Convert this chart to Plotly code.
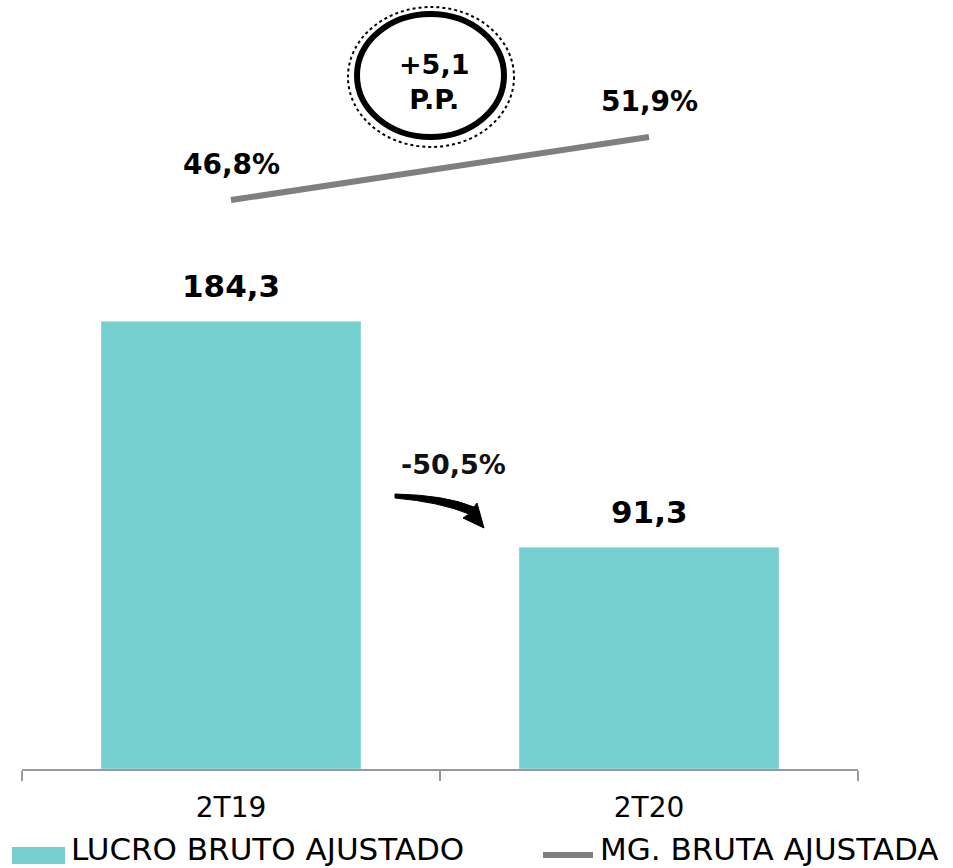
import plotly.graph_objects as go

categories = ["2T19", "2T20"]
lucro_bruto = [184.3, 91.3]
margem_bruta = [46.8, 51.9]
series_names = ["LUCRO BRUTO AJUSTADO", "MG. BRUTA AJUSTADA"]
variacao_label = "-50,5%"
pp_label = "+5,1<br>P.P."

W, H = 953, 868
ML, MR, MT, MB = 22, 95, 0, 99
PW, PH = W - ML - MR, H - MT - MB

def px(x):
    return (x - ML) / PW

def py(y):
    return (H - MB - y) / PH

TEAL = "#75CFCF"
GRAY = "#7F7F7F"
FONT = "DejaVu Sans"

fig = go.Figure()
fig.add_trace(go.Bar(x=categories, y=lucro_bruto, marker_color=TEAL,
                     name=series_names[0], showlegend=False, hoverinfo="skip"))
fig.add_trace(go.Scatter(x=categories, y=margem_bruta, mode="lines", yaxis="y2",
                         line=dict(color=GRAY, width=6), name=series_names[1],
                         showlegend=False, hoverinfo="skip"))

annotations = []
for c, v in zip(categories, lucro_bruto):
    annotations.append(dict(x=c, y=v, xref="x", yref="y", text=f"{v:.1f}".replace(".", ","),
                            showarrow=False, yanchor="middle", yshift=35,
                            font=dict(family=FONT, size=31, color="#000", weight="bold")))
for c, v in zip(categories, margem_bruta):
    annotations.append(dict(x=c, y=v, xref="x", yref="y2", text=f"{v:.1f}".replace(".", ",") + "%",
                            showarrow=False, yanchor="middle", yshift=36,
                            font=dict(family=FONT, size=28, color="#000", weight="bold")))

annotations.append(dict(x=px(453), y=py(464), xref="paper", yref="paper", text=variacao_label,
                        showarrow=False, xanchor="center", yanchor="middle",
                        font=dict(family=FONT, size=27, color="#111", weight="bold")))
annotations.append(dict(x=px(434), y=py(82), xref="paper", yref="paper", text=pp_label,
                        showarrow=False, xanchor="center", yanchor="middle",
                        font=dict(family=FONT, size=27, color="#000", weight="bold")))

# legend (manual)
annotations.append(dict(x=px(70), y=py(868), xref="paper", yref="paper", text=series_names[0],
                        showarrow=False, xanchor="left", yanchor="bottom", borderpad=0,
                        font=dict(family=FONT, size=31, color="#000")))
annotations.append(dict(x=px(599), y=py(868), xref="paper", yref="paper", text=series_names[1],
                        showarrow=False, xanchor="left", yanchor="bottom", borderpad=0,
                        font=dict(family=FONT, size=31, color="#000")))

shapes = [
    dict(type="circle", xref="paper", yref="paper", x0=px(348), x1=px(514), y0=py(147), y1=py(7),
         line=dict(color="#000", width=2, dash="dot")),
    dict(type="circle", xref="paper", yref="paper", x0=px(357), x1=px(504), y0=py(137), y1=py(14),
         line=dict(color="#000", width=6)),
    dict(type="rect", xref="paper", yref="paper", x0=px(12), x1=px(65), y0=py(864), y1=py(847),
         fillcolor=TEAL, line=dict(width=0)),
    dict(type="line", xref="paper", yref="paper", x0=px(543), x1=px(593), y0=py(855), y1=py(855),
         line=dict(color=GRAY, width=6)),
]
path = f"M {px(395)},{py(494)} Q {px(445)},{py(495)} {px(474)},{py(507)} L {px(477)},{py(503)} " \
       f"L {px(484)},{py(528)} L {px(463)},{py(518)} L {px(469)},{py(514)} " \
       f"Q {px(440)},{py(502)} {px(395)},{py(498)} Z"
shapes.append(dict(type="path", xref="paper", yref="paper", path=path,
                   fillcolor="#000", line=dict(color="#000", width=1)))

fig.update_layout(
    width=W, height=H,
    margin=dict(l=ML, r=MR, t=MT, b=MB),
    paper_bgcolor="white", plot_bgcolor="white",
    bargap=0.378,
    separators=",.",
    xaxis=dict(showline=True, linecolor="#999", linewidth=1.5, ticks="outside", tickson="boundaries",
               ticklen=10, tickcolor="#999", tickwidth=1.5, showgrid=False, ticklabelstandoff=13,
               tickfont=dict(family=FONT, size=28, color="#000")),
    yaxis=dict(range=[0, 316.6], visible=False, showgrid=False),
    yaxis2=dict(range=[0.73, 63.0], overlaying="y", visible=False, showgrid=False),
    annotations=annotations,
    shapes=shapes,
    showlegend=False,
)

fig.write_html("out.html", config={"displayModeBar": False},
               post_script="document.body.style.margin='0';document.body.style.overflow='hidden';")
